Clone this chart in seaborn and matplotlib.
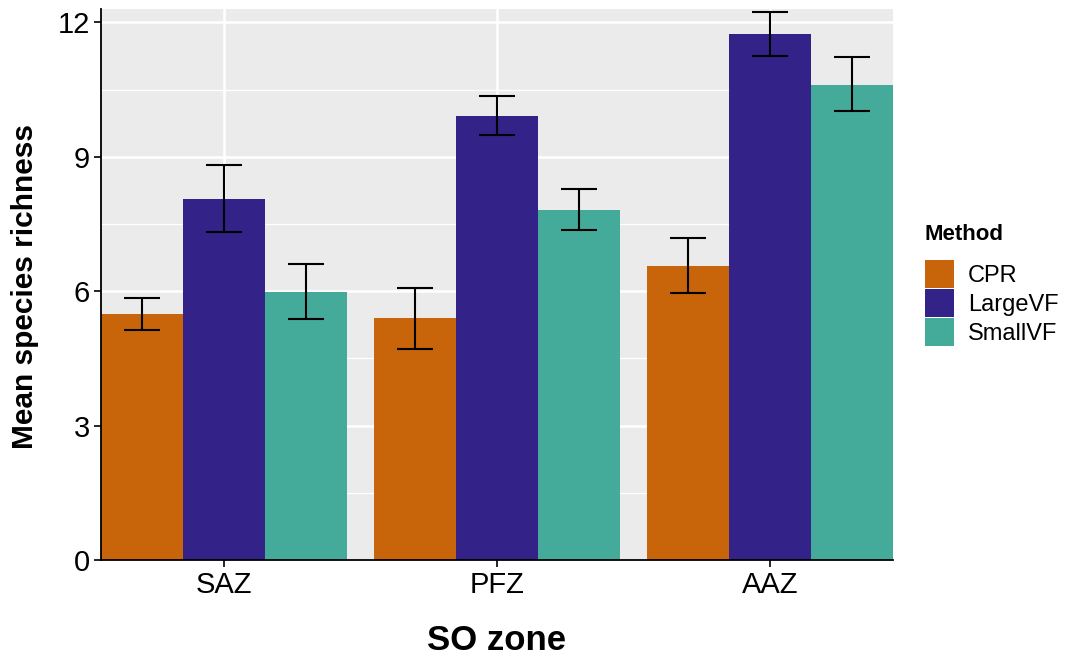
import matplotlib
matplotlib.use("Agg")
import matplotlib.pyplot as plt
import pandas as pd
import seaborn as sns
from matplotlib.patches import Patch
from matplotlib.ticker import MultipleLocator

# Mean species richness per Southern Ocean zone and sampling method
zones = ["SAZ", "PFZ", "AAZ"]
methods = ["CPR", "LargeVF", "SmallVF"]
method_colors = ["#C8650A", "#332288", "#44AA99"]

cpr_mean = [5.49, 5.40, 6.57]
cpr_low = [5.13, 4.72, 5.95]
cpr_high = [5.85, 6.08, 7.19]

largevf_mean = [8.06, 9.91, 11.75]
largevf_low = [7.33, 9.48, 11.25]
largevf_high = [8.81, 10.36, 12.23]

smallvf_mean = [5.98, 7.82, 10.61]
smallvf_low = [5.38, 7.36, 10.03]
smallvf_high = [6.60, 8.29, 11.22]

y_ticks = [0, 3, 6, 9, 12]

series = {
    "CPR": (cpr_mean, cpr_low, cpr_high),
    "LargeVF": (largevf_mean, largevf_low, largevf_high),
    "SmallVF": (smallvf_mean, smallvf_low, smallvf_high),
}
rows = []
for method, (means, lows, highs) in series.items():
    for zone, m, lo, hi in zip(zones, means, lows, highs):
        rows.append({"zone": zone, "method": method, "mean": m, "low": lo, "high": hi})
df = pd.DataFrame(rows)

plt.rcParams["font.family"] = ["Liberation Sans", "DejaVu Sans"]

fig = plt.figure(figsize=(10.68, 6.62), dpi=100)
ax = fig.add_axes([101 / 1068, 102 / 662, 792 / 1068, 551 / 662])
ax.set_facecolor("#EBEBEB")

sns.barplot(
    data=df, x="zone", y="mean", hue="method",
    order=zones, hue_order=methods, palette=method_colors,
    width=0.9, gap=0, errorbar=None, saturation=1,
    linewidth=0, legend=False, ax=ax,
)

# error bars centred on each drawn bar
for method, container in zip(methods, ax.containers):
    sub = df[df["method"] == method].set_index("zone")
    for bar in container:
        xc = bar.get_x() + bar.get_width() / 2
        zone = zones[int(round(xc))]
        r = sub.loc[zone]
        ax.errorbar(
            xc, r["mean"],
            yerr=[[r["mean"] - r["low"]], [r["high"] - r["mean"]]],
            fmt="none", ecolor="black", elinewidth=1.5,
            capsize=13, capthick=1.5, zorder=4,
        )

ax.set_xlim(-0.45, 2.45)
ax.set_ylim(0, 12.3)
ax.set_yticks(y_ticks)
ax.yaxis.set_minor_locator(MultipleLocator(1.5))
ax.set_axisbelow(True)
ax.grid(which="major", color="white", linewidth=1.8)
ax.grid(which="minor", axis="y", color="white", linewidth=0.9)
ax.tick_params(which="minor", length=0)
ax.tick_params(which="major", length=5, width=1.2, color="black",
               labelsize=21, labelcolor="black", pad=3)

for side in ("top", "right"):
    ax.spines[side].set_visible(False)
for side in ("left", "bottom"):
    ax.spines[side].set_color("black")
    ax.spines[side].set_linewidth(1.3)

ax.set_xlabel("")
ax.set_ylabel("")
fig.text(497 / 1068, 1 - 641 / 662, "SO zone", ha="center", va="center",
         fontsize=25, fontweight="bold")
fig.text(25 / 1068, 1 - 286 / 662, "Mean species richness", ha="center", va="center",
         rotation=90, fontsize=21.5, fontweight="bold")

# legend
fig.text(924 / 1068, 1 - 234 / 662, "Method", ha="left", va="center",
         fontsize=16, fontweight="bold")
handles = [Patch(facecolor=c, edgecolor="none", label=m)
           for m, c in zip(methods, method_colors)]
fig.legend(
    handles=handles, loc="upper left",
    bbox_to_anchor=(925 / 1068, 1 - 260 / 662),
    frameon=False, fontsize=17, borderpad=0, borderaxespad=0,
    handlelength=1.23, handleheight=1.45, handletextpad=0.6,
    labelspacing=0.05,
)

fig.savefig("out.png", dpi=100)
